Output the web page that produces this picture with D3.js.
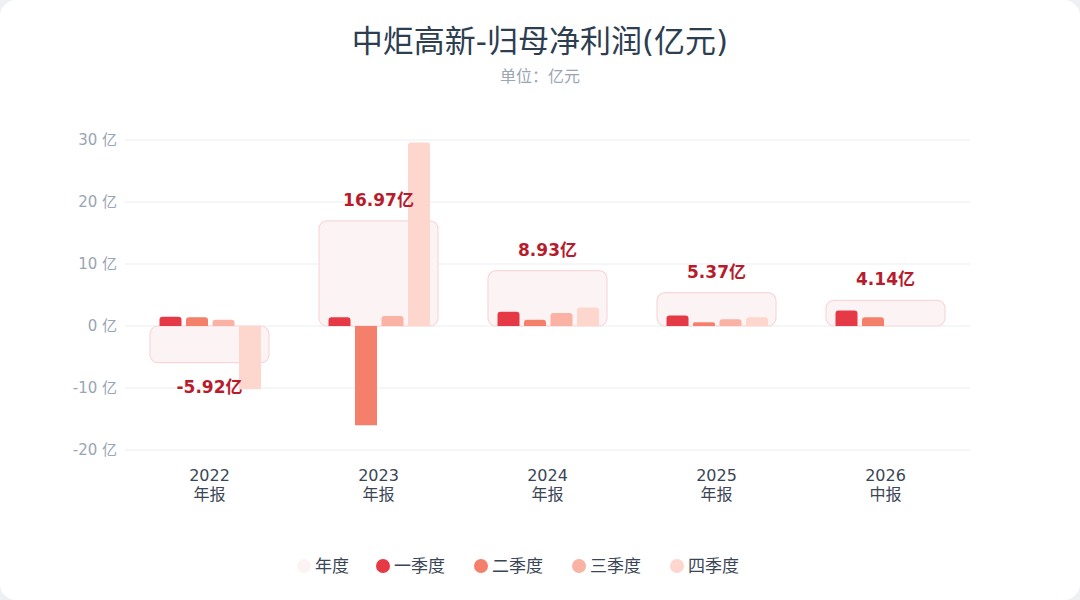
<!DOCTYPE html>
<html>
<head>
<meta charset="utf-8">
<script src="https://cdn.jsdelivr.net/npm/d3@7"></script>
<style>
  body { margin: 0; background: #eef0f3; font-family: "DejaVu Sans", "Noto Sans CJK SC", sans-serif; }
</style>
</head>
<body>
<svg id="chart" width="1080" height="600"></svg>
<script>
const years = ['2022', '2023', '2024', '2025', '2026'];
const periods = ['年报', '年报', '年报', '年报', '中报'];
const annual = [-5.92, 16.97, 8.93, 5.37, 4.14];
const annualLabels = ['-5.92亿', '16.97亿', '8.93亿', '5.37亿', '4.14亿'];
const q1 = [1.5, 1.4, 2.3, 1.7, 2.5];
const q2 = [1.4, -16.0, 1.0, 0.6, 1.4];
const q3 = [1.0, 1.6, 2.1, 1.1, null];
const q4 = [-10.2, 29.6, 3.0, 1.4, null];
const yTicks = [-20, -10, 0, 10, 20, 30];
const seriesNames = ['年度', '一季度', '二季度', '三季度', '四季度'];
const colors = ['#fcf4f4', '#e63946', '#f4806b', '#f9b2a3', '#fdd6cd'];

const svg = d3.select('#chart');
const W = 1080, H = 600;
const margin = { left: 125, right: 110, top: 110, bottom: 150 };

svg.append('rect').attr('width', W).attr('height', H).attr('rx', 16).attr('fill', '#fff');

svg.append('text').attr('x', W / 2).attr('y', 52).attr('text-anchor', 'middle')
  .attr('font-size', 31).attr('fill', '#2d3e50').text('中炬高新-归母净利润(亿元)');
svg.append('text').attr('x', W / 2).attr('y', 82).attr('text-anchor', 'middle')
  .attr('font-size', 16).attr('fill', '#9aa5b5').text('单位：亿元');

const x = d3.scaleBand().domain(years).range([margin.left, W - margin.right]);
const y = d3.scaleLinear().domain([-20, 30]).range([450, 140]);

const grid = svg.append('g');
yTicks.forEach(t => {
  grid.append('line').attr('x1', margin.left).attr('x2', W - margin.right)
    .attr('y1', y(t)).attr('y2', y(t)).attr('stroke', '#ebedf0');
  grid.append('text').attr('x', 117).attr('y', y(t) + 5).attr('text-anchor', 'end')
    .attr('font-size', 15).attr('fill', '#9aa5b5').text(`${t} 亿`);
});

years.forEach((yr, i) => {
  const cx = x(yr) + x.bandwidth() / 2;
  svg.append('text').attr('x', cx).attr('y', 481).attr('text-anchor', 'middle')
    .attr('font-size', 16).attr('fill', '#3a4656').text(yr);
  svg.append('text').attr('x', cx).attr('y', 500).attr('text-anchor', 'middle')
    .attr('font-size', 16).attr('fill', '#3a4656').text(periods[i]);
});

const boxW = 119;
annual.forEach((v, i) => {
  const cx = x(years[i]) + x.bandwidth() / 2;
  svg.append('rect').attr('x', cx - boxW / 2).attr('width', boxW)
    .attr('y', Math.min(y(v), y(0))).attr('height', Math.abs(y(v) - y(0)))
    .attr('rx', 8).attr('fill', colors[0]).attr('stroke', '#f8d6db').attr('stroke-width', 1.2);
});

const quarters = [q1, q2, q3, q4];
const barW = 22, step = 26.5;
quarters.forEach((arr, qi) => {
  arr.forEach((v, i) => {
    if (v === null) return;
    const cx = x(years[i]) + x.bandwidth() / 2;
    const bx = cx - 50 + qi * step;
    const top = Math.min(y(v), y(0));
    const h = Math.abs(y(v) - y(0));
    const r = Math.min(3, h / 2);
    const p = v >= 0
      ? `M${bx},${y(0)} V${top + r} Q${bx},${top} ${bx + r},${top} H${bx + barW - r} Q${bx + barW},${top} ${bx + barW},${top + r} V${y(0)} Z`
      : `M${bx},${y(0)} H${bx + barW} V${y(0) + h} H${bx} Z`;
    svg.append('path').attr('d', p).attr('fill', colors[qi + 1]);
  });
});

annual.forEach((v, i) => {
  const cx = x(years[i]) + x.bandwidth() / 2;
  const ly = v >= 0 ? y(v) - 15 : y(v) + 30;
  svg.append('text').attr('x', cx).attr('y', ly).attr('text-anchor', 'middle')
    .attr('font-size', 17).attr('font-weight', 'bold').attr('fill', '#b71c2c').text(annualLabels[i]);
});

const legendX = [304, 383, 481, 579, 677];
seriesNames.forEach((n, i) => {
  const g = svg.append('g').attr('transform', `translate(${legendX[i]},566)`);
  g.append('circle').attr('r', 7).attr('fill', colors[i]);
  g.append('text').attr('x', 11).attr('y', 6).attr('font-size', 17).attr('fill', '#3a4656').text(n);
});
</script>
</body>
</html>
